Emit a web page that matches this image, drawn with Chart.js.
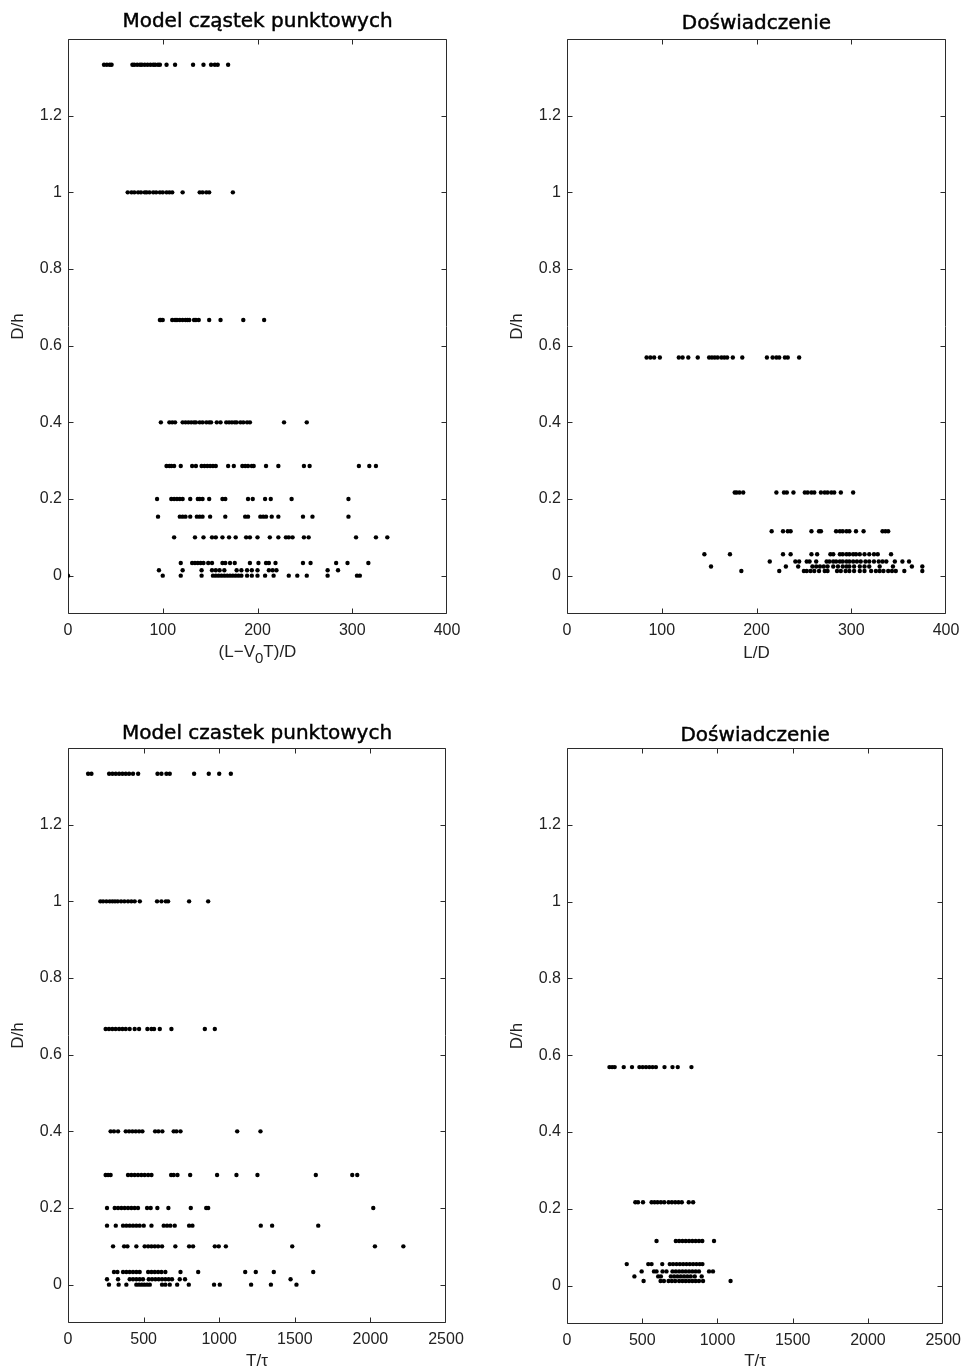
<!DOCTYPE html>
<html>
<head>
<meta charset="utf-8">
<script src="https://cdn.jsdelivr.net/npm/chart.js@4.4.1/dist/chart.umd.min.js"></script>
<style>
  html, body { margin: 0; padding: 0; background: #fff; }
  body { width: 968px; height: 1372px; position: relative; overflow: hidden; }
  canvas { position: absolute; }
</style>
</head>
<body>
<canvas id="modelGap"></canvas>
<canvas id="expGap"></canvas>
<canvas id="modelTime"></canvas>
<canvas id="expTime"></canvas>
<script>
// ---- tick values and labels ----
const yTickValues = [0, 0.2, 0.4, 0.6, 0.8, 1, 1.2];
const yTickLabels = ['0', '0.2', '0.4', '0.6', '0.8', '1', '1.2'];
const gapTickValues = [0, 100, 200, 300, 400];
const timeTickValues = [0, 500, 1000, 1500, 2000, 2500];

// ---- D/h levels ----
const modelLevels = [1.333, 1, 0.667, 0.4, 0.286, 0.2, 0.154, 0.1, 0.033, 0.014, 0];
const expLevels = [0.569, 0.217, 0.116, 0.056, 0.037, 0.024, 0.012];

// ---- point-particle model: (L - V0 T)/D for each D/h level ----
const modelGap_1333 = [38, 41, 44, 46, 68, 70, 73, 76, 78, 81, 84, 87, 90, 92, 95, 97, 104, 113, 132, 143, 151, 155, 158, 169];
const modelGap_1000 = [63, 67, 70, 74, 77, 81, 83, 86, 90, 93, 97, 100, 104, 107, 110, 121, 139, 142, 146, 149, 174];
const modelGap_0667 = [97, 98, 100, 110, 113, 115, 118, 121, 124, 126, 128, 133, 135, 138, 149, 161, 185, 207];
const modelGap_0400 = [98, 107, 110, 113, 121, 124, 127, 130, 133, 135, 139, 142, 146, 149, 151, 157, 161, 167, 170, 173, 176, 178, 182, 185, 189, 192, 228, 252];
const modelGap_0286 = [104, 107, 109, 112, 119, 131, 135, 141, 144, 147, 150, 153, 156, 169, 175, 184, 187, 190, 194, 196, 209, 222, 249, 255, 307, 318, 325];
const modelGap_0200 = [94, 109, 112, 115, 118, 121, 129, 137, 139, 142, 149, 163, 166, 190, 195, 208, 214, 236, 296];
const modelGap_0154 = [95, 118, 121, 124, 129, 136, 139, 142, 150, 166, 187, 190, 203, 206, 209, 215, 222, 248, 258, 296];
const modelGap_0100 = [112, 134, 143, 152, 156, 163, 170, 177, 188, 192, 200, 213, 222, 230, 233, 237, 249, 254, 304, 325, 337];
const modelGap_0033 = [119, 131, 134, 137, 140, 143, 148, 152, 163, 166, 171, 176, 192, 201, 209, 212, 219, 248, 256, 283, 295, 317];
const modelGap_0014 = [96, 121, 141, 152, 156, 160, 165, 178, 183, 189, 194, 200, 212, 216, 220, 274, 285];
const modelGap_0000 = [0, 100, 119, 141, 153, 156, 159, 162, 165, 168, 171, 174, 177, 180, 183, 189, 194, 200, 208, 217, 233, 242, 252, 274, 305, 308];

// ---- experiment: L/D for each D/h level ----
const expGap_0569 = [84, 88, 92, 98, 118, 122, 128, 138, 150, 153, 156, 159, 163, 166, 169, 175, 185, 211, 217, 221, 224, 230, 233, 245];
const expGap_0217 = [177, 179, 182, 186, 221, 229, 232, 239, 251, 254, 258, 261, 268, 272, 275, 279, 282, 289, 302];
const expGap_0116 = [216, 228, 233, 236, 258, 266, 268, 284, 288, 291, 295, 298, 305, 313, 333, 336, 339];
const expGap_0056 = [145, 172, 228, 236, 258, 264, 278, 281, 288, 291, 295, 298, 302, 305, 309, 314, 319, 324, 328, 342];
const expGap_0037 = [214, 241, 245, 253, 256, 263, 274, 277, 281, 284, 288, 291, 295, 298, 302, 306, 310, 315, 319, 324, 329, 333, 337, 346, 354, 361];
const expGap_0024 = [152, 231, 244, 259, 263, 267, 271, 275, 281, 286, 291, 295, 298, 303, 309, 314, 319, 330, 344, 364, 375];
const expGap_0012 = [184, 224, 250, 253, 257, 261, 266, 272, 275, 285, 289, 294, 298, 303, 309, 314, 321, 326, 330, 334, 339, 343, 347, 356, 375];

// ---- point-particle model: T/tau for each D/h level ----
const modelTime_1333 = [133, 155, 272, 294, 316, 338, 360, 382, 404, 430, 464, 592, 618, 651, 673, 834, 931, 1000, 1077];
const modelTime_1000 = [214, 232, 254, 276, 294, 311, 329, 351, 373, 397, 419, 441, 475, 589, 618, 647, 662, 801, 927];
const modelTime_0667 = [249, 271, 293, 315, 338, 360, 382, 408, 441, 470, 525, 552, 569, 607, 684, 905, 971];
const modelTime_0400 = [282, 304, 331, 382, 404, 426, 448, 470, 492, 576, 598, 624, 699, 717, 744, 1119, 1273];
const modelTime_0286 = [249, 265, 282, 397, 419, 441, 463, 485, 507, 530, 552, 682, 699, 724, 808, 986, 1114, 1253, 1639, 1880, 1913];
const modelTime_0200 = [258, 309, 331, 353, 375, 397, 419, 441, 463, 523, 547, 591, 664, 812, 914, 927, 2019];
const modelTime_0154 = [258, 316, 364, 386, 408, 430, 452, 474, 501, 552, 633, 655, 677, 706, 801, 823, 1275, 1350, 1655];
const modelTime_0100 = [298, 371, 393, 452, 507, 530, 552, 574, 596, 622, 710, 801, 827, 971, 997, 1044, 1483, 2030, 2218];
const modelTime_0033 = [304, 327, 364, 386, 408, 430, 452, 474, 530, 552, 574, 596, 618, 644, 744, 861, 1172, 1242, 1361, 1622];
const modelTime_0014 = [258, 331, 408, 430, 452, 474, 496, 534, 556, 578, 600, 622, 644, 666, 688, 739, 774, 1472];
const modelTime_0000 = [271, 335, 386, 452, 470, 488, 505, 523, 541, 622, 644, 673, 722, 799, 966, 1004, 1211, 1342, 1511];

// ---- experiment: T/tau for each D/h level ----
const expTime_0569 = [282, 300, 317, 377, 432, 481, 503, 525, 547, 569, 591, 648, 701, 736, 827];
const expTime_0217 = [454, 472, 505, 562, 582, 602, 624, 646, 675, 697, 719, 741, 763, 809, 838];
const expTime_0116 = [595, 723, 745, 767, 789, 811, 833, 855, 877, 899, 977];
const expTime_0056 = [397, 540, 562, 633, 683, 705, 728, 750, 772, 794, 816, 838, 860, 882, 900];
const expTime_0037 = [496, 578, 595, 635, 661, 701, 723, 745, 767, 789, 811, 833, 855, 877, 944, 970];
const expTime_0024 = [448, 606, 624, 690, 712, 734, 756, 778, 800, 822, 849, 895];
const expTime_0012 = [509, 622, 644, 675, 697, 719, 745, 767, 789, 811, 833, 855, 877, 904, 1087];

// pair every x value of a row with the row's D/h level
function rowsToPoints(levels, rows) {
  const pts = [];
  levels.forEach((lv, i) => rows[i].forEach(x => pts.push({ x: x, y: lv })));
  return pts;
}

const SANS = '"Liberation Sans", Arial, sans-serif';
const TICK_FONT = { family: SANS, size: 16 };
const LABEL_FONT = '17px ' + SANS;
const SUB_FONT = '15px ' + SANS;
const TITLE_FONT = '20px "DejaVu Sans", sans-serif';
const AXIS_COLOR = '#2b2b2b';
const TEXT_COLOR = '#222';

// box frame with inward tick marks on all four sides, panel title and x-axis title
const framePlugin = {
  id: 'frame',
  beforeDatasetsDraw(chart, args, opts) {
    const ctx = chart.ctx;
    const a = chart.chartArea;
    const L = Math.round(a.left) + 0.5, R = Math.round(a.right) - 0.5;
    const T = Math.round(a.top) + 0.5, B = Math.round(a.bottom) - 0.5;
    const len = 5;
    const clamp = (v, lo, hi) => Math.min(Math.max(v, lo), hi);
    ctx.save();
    ctx.strokeStyle = AXIS_COLOR;
    ctx.lineWidth = 1;
    ctx.beginPath();
    ctx.rect(L, T, R - L, B - T);
    const xs = chart.scales.x, ys = chart.scales.y;
    xs.ticks.forEach(t => {
      const px = clamp(Math.round(xs.getPixelForValue(t.value)) + 0.5, L, R);
      ctx.moveTo(px, B); ctx.lineTo(px, B - len);
      ctx.moveTo(px, T); ctx.lineTo(px, T + len);
    });
    ys.ticks.forEach(t => {
      const py = clamp(Math.round(ys.getPixelForValue(t.value)) + 0.5, T, B);
      ctx.moveTo(L, py); ctx.lineTo(L + len, py);
      ctx.moveTo(R, py); ctx.lineTo(R - len, py);
    });
    ctx.stroke();
    ctx.restore();
  },
  afterDraw(chart, args, opts) {
    const ctx = chart.ctx;
    const a = chart.chartArea;
    const cx = (a.left + a.right) / 2;
    ctx.save();
    // panel title, slightly heavier than the regular face
    ctx.fillStyle = '#000';
    ctx.strokeStyle = '#000';
    ctx.lineWidth = 0.45;
    ctx.font = TITLE_FONT;
    ctx.textAlign = 'center';
    ctx.textBaseline = 'alphabetic';
    ctx.fillText(opts.title, cx, opts.titleBaseline);
    ctx.strokeText(opts.title, cx, opts.titleBaseline);

    // x-axis title, pieces may be subscripts
    ctx.fillStyle = TEXT_COLOR;
    ctx.textAlign = 'left';
    const parts = opts.xTitle.map(p => {
      ctx.font = p.sub ? SUB_FONT : LABEL_FONT;
      return { text: p.text, sub: p.sub, w: ctx.measureText(p.text).width };
    });
    const total = parts.reduce((s, p) => s + p.w, 0);
    let x = cx - total / 2;
    parts.forEach(p => {
      ctx.font = p.sub ? SUB_FONT : LABEL_FONT;
      ctx.fillText(p.text, x, opts.xTitleBaseline + (p.sub ? 6 : 0));
      x += p.w;
    });
    ctx.restore();
  }
};

const panels = [
  {
    id: 'modelGap', box: { x: 0, y: 0, w: 484, h: 684 }, plot: { l: 68, t: 39, r: 447, b: 614 },
    title: 'Model cząstek punktowych', titleBaseline: 27,
    xMax: 400, xTicks: gapTickValues,
    xTitle: [{ text: '(L\u2212V' }, { text: '0', sub: true }, { text: 'T)/D' }], xTitleBaseline: 657,
    points: rowsToPoints(modelLevels, [modelGap_1333, modelGap_1000, modelGap_0667, modelGap_0400, modelGap_0286,
      modelGap_0200, modelGap_0154, modelGap_0100, modelGap_0033, modelGap_0014, modelGap_0000])
  },
  {
    id: 'expGap', box: { x: 499, y: 0, w: 469, h: 684 }, plot: { l: 567, t: 39, r: 946, b: 614 },
    title: 'Doświadczenie', titleBaseline: 28.5,
    xMax: 400, xTicks: gapTickValues,
    xTitle: [{ text: 'L/D' }], xTitleBaseline: 658,
    points: rowsToPoints(expLevels, [expGap_0569, expGap_0217, expGap_0116, expGap_0056, expGap_0037, expGap_0024, expGap_0012])
  },
  {
    id: 'modelTime', box: { x: 0, y: 684, w: 484, h: 688 }, plot: { l: 68, t: 748, r: 446, b: 1323 },
    title: 'Model czastek punktowych', titleBaseline: 739,
    xMax: 2500, xTicks: timeTickValues,
    xTitle: [{ text: 'T/\u03c4' }], xTitleBaseline: 1366,
    points: rowsToPoints(modelLevels, [modelTime_1333, modelTime_1000, modelTime_0667, modelTime_0400, modelTime_0286,
      modelTime_0200, modelTime_0154, modelTime_0100, modelTime_0033, modelTime_0014, modelTime_0000])
  },
  {
    id: 'expTime', box: { x: 499, y: 684, w: 469, h: 688 }, plot: { l: 567, t: 748, r: 945, b: 1324 },
    title: 'Doświadczenie', titleBaseline: 741,
    xMax: 2500, xTicks: timeTickValues,
    xTitle: [{ text: 'T/\u03c4' }], xTitleBaseline: 1366,
    points: rowsToPoints(expLevels, [expTime_0569, expTime_0217, expTime_0116, expTime_0056, expTime_0037, expTime_0024, expTime_0012])
  }
];

panels.forEach(p => {
  const cv = document.getElementById(p.id);
  cv.width = p.box.w; cv.height = p.box.h;
  cv.style.left = p.box.x + 'px'; cv.style.top = p.box.y + 'px';
  cv.style.width = p.box.w + 'px'; cv.style.height = p.box.h + 'px';
  const yAxisWidth = p.plot.l - p.box.x;
  const xAxisHeight = p.box.y + p.box.h - p.plot.b;

  new Chart(cv, {
    type: 'scatter',
    data: {
      datasets: [{
        data: p.points,
        pointStyle: 'circle',
        pointRadius: 2.2,
        pointBackgroundColor: '#000',
        pointBorderWidth: 0,
        showLine: false
      }]
    },
    options: {
      responsive: false,
      animation: false,
      devicePixelRatio: 1,
      events: [],
      layout: { padding: { left: 0, top: p.plot.t - p.box.y, right: p.box.x + p.box.w - p.plot.r, bottom: 0 } },
      plugins: {
        legend: { display: false },
        tooltip: { enabled: false },
        title: { display: false },
        frame: { title: p.title, titleBaseline: p.titleBaseline - p.box.y,
                 xTitle: p.xTitle, xTitleBaseline: p.xTitleBaseline - p.box.y }
      },
      scales: {
        x: {
          type: 'linear', min: 0, max: p.xMax,
          afterBuildTicks: s => { s.ticks = p.xTicks.map(v => ({ value: v })); },
          afterFit: s => { s.height = xAxisHeight; },
          grid: { display: false, drawTicks: false },
          border: { display: false },
          ticks: { font: TICK_FONT, color: TEXT_COLOR, padding: 7, maxRotation: 0, autoSkip: false,
                   callback: v => String(v) }
        },
        y: {
          type: 'linear', min: -0.1, max: 1.4,
          afterBuildTicks: s => { s.ticks = yTickValues.map(v => ({ value: v })); },
          afterFit: s => { s.width = yAxisWidth; },
          grid: { display: false, drawTicks: false },
          border: { display: false },
          ticks: { font: TICK_FONT, color: TEXT_COLOR, padding: 6, autoSkip: false,
                   callback: v => yTickLabels[yTickValues.indexOf(v)] },
          title: { display: true, text: 'D/h', color: TEXT_COLOR,
                   font: { family: SANS, size: 17 },
                   padding: { top: 8, bottom: 0 } }
        }
      }
    },
    plugins: [framePlugin]
  });
});
</script>
</body>
</html>
